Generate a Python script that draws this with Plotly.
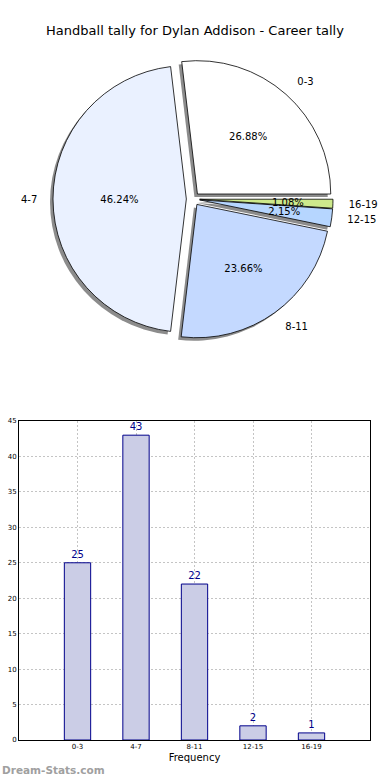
import plotly.graph_objects as go

categories = ["0-3", "4-7", "8-11", "12-15", "16-19"]
counts = [25, 43, 22, 2, 1]
pie_colors = ["#ffffff", "#eaf1ff", "#c4d9ff", "#b6d6ff", "#cde98c"]
y_ticks = [0, 5, 10, 15, 20, 25, 30, 35, 40, 45]

W, H = 390, 780

def px_x(a, b):
    return [a / W, b / W]

def px_y(top, bottom):
    return [1 - bottom / H, 1 - top / H]

pull = [0.05] * len(counts)
# first slice starts at 3 o'clock going counterclockwise (plotly anchors the
# first slice's far edge at `rotation` in ccw mode)
rot = 90 - 360 * counts[0] / sum(counts)
cx, cy, r = 193, 199, 140

small = [c / sum(counts) < 0.05 for c in counts]
pct_big = ["" if s else "%{percent:.2%}" for s in small]
pct_small = ["%{percent:.2%}" if s else "" for s in small]

fig = go.Figure()

common = dict(labels=categories, values=counts, sort=False,
              direction="counterclockwise", rotation=rot, pull=pull,
              showlegend=False)

# shadow
fig.add_trace(go.Pie(
    **common, textinfo="none", hoverinfo="skip",
    marker=dict(colors=["#8c8c8c"] * 5, line=dict(width=0)),
    domain=dict(x=px_x(cx - r - 3, cx + r - 3), y=px_y(cy - r + 3, cy + r + 3)),
))
# main pie with percentages
fig.add_trace(go.Pie(
    **common, texttemplate=pct_big, textposition="inside",
    insidetextorientation="horizontal",
    textfont=dict(size=10, color="black", family="DejaVu Sans"),
    marker=dict(colors=pie_colors, line=dict(color="black", width=0.8)),
    domain=dict(x=px_x(cx - r, cx + r), y=px_y(cy - r, cy + r)),
))
# percentages of thin slices, placed nearer the centre
R1 = 98
fig.add_trace(go.Pie(
    **common, texttemplate=pct_small, textposition="inside",
    insidetextorientation="horizontal",
    textfont=dict(size=10, color="black", family="DejaVu Sans"),
    marker=dict(colors=["rgba(0,0,0,0)"] * 5, line=dict(width=0)),
    domain=dict(x=px_x(cx - R1, cx + R1), y=px_y(cy - R1, cy + R1)),
    hoverinfo="skip",
))
# outside labels
R2 = 153
fig.add_trace(go.Pie(
    **common, texttemplate="%{label}", textposition="outside",
    outsidetextfont=dict(size=10, color="black", family="DejaVu Sans"),
    marker=dict(colors=["rgba(0,0,0,0)"] * 5, line=dict(width=0)),
    domain=dict(x=px_x(cx - R2, cx + R2), y=px_y(cy - R2, cy + R2)),
    hoverinfo="skip",
))

fig.add_trace(go.Bar(
    x=categories, y=counts, width=0.45,
    marker=dict(color="#cbcde6", line=dict(color="#00008b", width=1)),
    text=[str(c) for c in counts], textposition="outside",
    textfont=dict(size=10, color="#00008b", family="DejaVu Sans"),
    cliponaxis=False, showlegend=False,
))

fig.update_layout(
    width=W, height=H, margin=dict(l=0, r=0, t=0, b=0, autoexpand=False),
    paper_bgcolor="white", plot_bgcolor="white",
    title=dict(text="Handball tally for Dylan Addison - Career tally",
               x=0.5, xanchor="center", y=1 - 30 / H, yanchor="middle",
               font=dict(size=13, color="black", family="DejaVu Sans")),
    font=dict(family="DejaVu Sans", color="black"),
    uniformtext=dict(minsize=10, mode="show"),
    xaxis=dict(domain=px_x(19, 370), range=[-1, 5], type="category",
               automargin=False,
               showline=True, linecolor="black", mirror=True, linewidth=1,
               ticks="",
               showgrid=True, gridcolor="#c4c4c4", griddash="2px,2px",
               tickfont=dict(size=7),
               title=dict(text="Frequency", font=dict(size=10), standoff=3)),
    yaxis=dict(domain=px_y(421, 740), range=[0, 45], tickvals=y_ticks,
               automargin=False,
               showline=True, linecolor="black", mirror=True, linewidth=1,
               ticks="",
               showgrid=True, gridcolor="#c4c4c4", griddash="2px,2px",
               zeroline=False, tickfont=dict(size=7)),
    annotations=[dict(text="<b>Dream-Stats.com</b>", x=0, y=1 - 770 / H,
                      xref="paper", yref="paper", xanchor="left", yanchor="middle",
                      showarrow=False, font=dict(size=10.5, color="#a0a0a0"))],
)

fig.write_html("out.html", config={"displayModeBar": False},
               post_script="document.body.style.margin='0';")
